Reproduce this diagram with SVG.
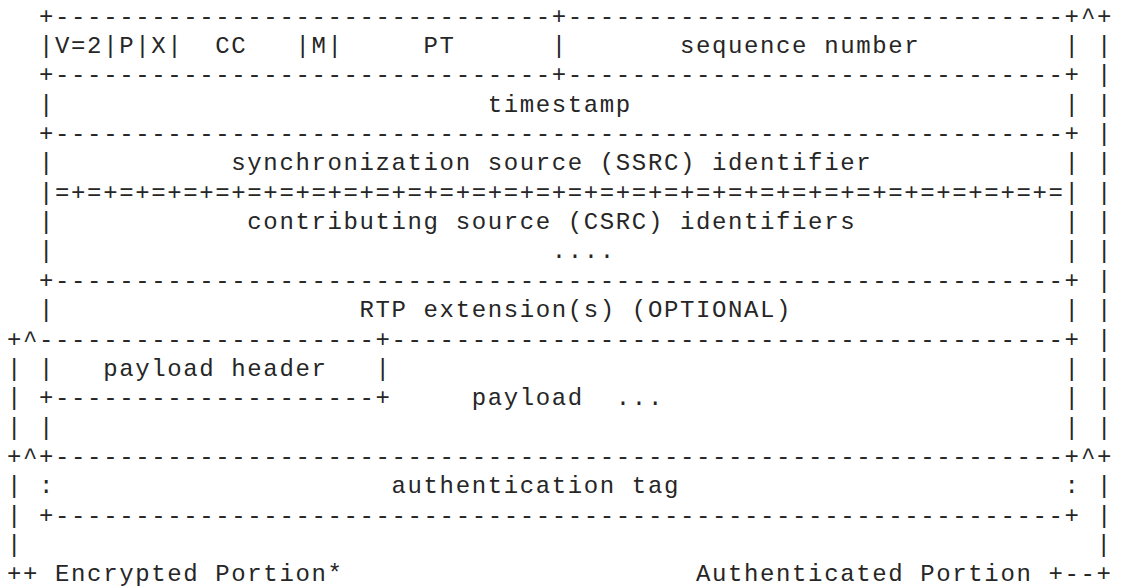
<svg xmlns="http://www.w3.org/2000/svg" width="1121" height="586" viewBox="0 0 1121 586">
  <style>
    text { font-family: "Courier New", "Nimbus Mono PS", "FreeMono", "Liberation Mono", monospace; font-size: 24px; letter-spacing: 1.62px; fill: #262626; white-space: pre; }
  </style>
  <rect width="1121" height="586" fill="#ffffff"/>

  <!-- RTP fixed header, CSRC list and extension (columns 2..66) -->
  <g id="rtp-header" xml:space="preserve">
    <text x="39.06" y="23.5">+-------------------------------+-------------------------------+</text>
    <text x="39.06" y="52.87">|V=2|P|X|  CC   |M|     PT      |       sequence number         |</text>
    <text x="39.06" y="82.24">+-------------------------------+-------------------------------+</text>
    <text x="39.06" y="111.61">|                           timestamp                           |</text>
    <text x="39.06" y="140.98">+---------------------------------------------------------------+</text>
    <text x="39.06" y="170.35">|           synchronization source (SSRC) identifier            |</text>
    <text x="39.06" y="199.72">|=+=+=+=+=+=+=+=+=+=+=+=+=+=+=+=+=+=+=+=+=+=+=+=+=+=+=+=+=+=+=+=|</text>
    <text x="39.06" y="229.09">|            contributing source (CSRC) identifiers             |</text>
    <text x="39.06" y="258.46">|                               ....                            |</text>
    <text x="39.06" y="287.83">+---------------------------------------------------------------+</text>
    <text x="39.06" y="317.2">|                   RTP extension(s) (OPTIONAL)                 |</text>
  </g>

  <!-- payload with its payload header -->
  <g id="payload" xml:space="preserve">
    <text x="39.06" y="346.57">---------------------+------------------------------------------+</text>
    <text x="39.06" y="375.94">|   payload header   |                                          |</text>
    <text x="39.06" y="405.31">+--------------------+     payload  ...                         |</text>
    <text x="39.06" y="434.68">|                                                               |</text>
  </g>

  <!-- authentication tag -->
  <g id="auth-tag" xml:space="preserve">
    <text x="39.06" y="464.05">+---------------------------------------------------------------+</text>
    <text x="39.06" y="493.42">:                     authentication tag                        :</text>
    <text x="39.06" y="522.79">+---------------------------------------------------------------+</text>
  </g>

  <!-- brackets marking the encrypted (left) and authenticated (right) portions -->
  <g id="connectors" xml:space="preserve">
    <text x="1081.07" y="23.5">^+</text>
    <text x="1081.07" y="52.87"> |</text>
    <text x="1081.07" y="82.24"> |</text>
    <text x="1081.07" y="111.61"> |</text>
    <text x="1081.07" y="140.98"> |</text>
    <text x="1081.07" y="170.35"> |</text>
    <text x="1081.07" y="199.72"> |</text>
    <text x="1081.07" y="229.09"> |</text>
    <text x="1081.07" y="258.46"> |</text>
    <text x="1081.07" y="287.83"> |</text>
    <text x="1081.07" y="317.2"> |</text>
    <text x="7" y="346.57">+^</text>
    <text x="1081.07" y="346.57"> |</text>
    <text x="7" y="375.94">|</text>
    <text x="1081.07" y="375.94"> |</text>
    <text x="7" y="405.31">|</text>
    <text x="1081.07" y="405.31"> |</text>
    <text x="7" y="434.68">|</text>
    <text x="1081.07" y="434.68"> |</text>
    <text x="7" y="464.05">+^</text>
    <text x="1081.07" y="464.05">^+</text>
    <text x="7" y="493.42">|</text>
    <text x="1081.07" y="493.42"> |</text>
    <text x="7" y="522.79">|</text>
    <text x="1081.07" y="522.79"> |</text>
    <text x="7" y="552.16">|                                                                   |</text>
  </g>

  <!-- portion labels -->
  <g id="legend" xml:space="preserve">
    <text x="7" y="581.2">++ Encrypted Portion*                      Authenticated Portion +--+</text>
  </g>
</svg>
